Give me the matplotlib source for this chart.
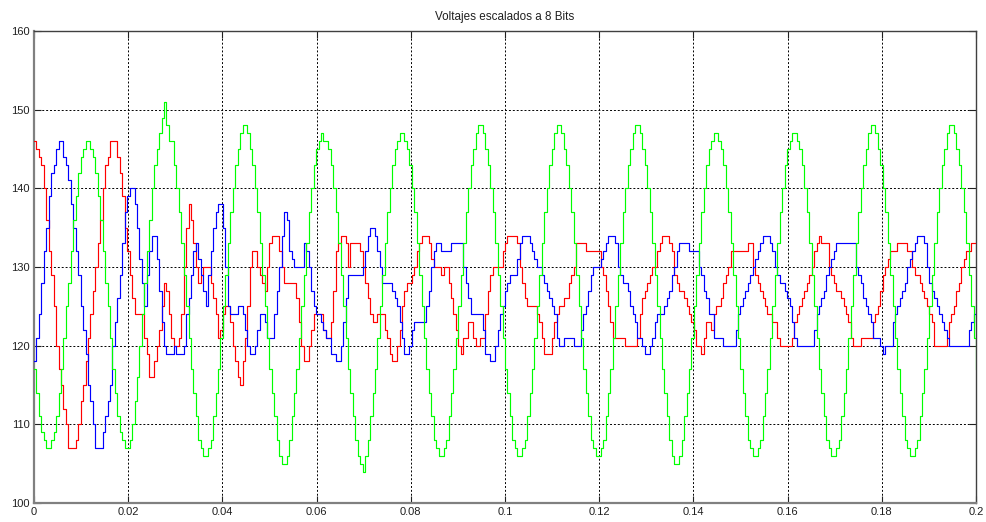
import numpy as np
import matplotlib
matplotlib.use("Agg")
import matplotlib.pyplot as plt

# sample period of the scope data (32 samples per 60 Hz cycle)
dt = 1.0 / 1920.0

title_text = "Voltajes escalados a 8 Bits"
xtick_vals = [0, 0.02, 0.04, 0.06, 0.08, 0.1, 0.12, 0.14, 0.16, 0.18, 0.2]
xtick_labels = ["0", "0.02", "0.04", "0.06", "0.08", "0.1", "0.12", "0.14", "0.16", "0.18", "0.2"]
ytick_vals = [100, 110, 120, 130, 140, 150, 160]
ytick_labels = ["100", "110", "120", "130", "140", "150", "160"]

green = [
    117,114,111,109,108,107,107,108,109,111,114,117,121,125,128,132,136,139,142,144,145,146,146,145,144,142,139,136,132,128,125,121,117,114,111,109,108,107,
    107,108,110,113,116,120,124,128,132,136,140,143,145,147,149,151,148,146,146,143,140,137,133,129,125,121,117,114,111,108,107,106,
    106,107,108,111,114,117,121,125,129,133,137,140,143,145,147,148,148,147,145,143,140,137,133,129,125,121,117,114,111,108,106,105,
    105,106,108,111,114,117,121,125,129,133,137,140,143,145,146,147,146,146,145,143,140,137,133,129,125,121,117,114,111,108,106,105,
    104,106,108,111,114,117,121,125,129,133,137,140,143,145,146,147,147,146,145,143,140,137,133,129,125,121,117,114,111,108,107,106,
    106,107,108,111,114,117,121,125,129,133,137,140,143,145,147,148,148,147,145,143,140,137,133,129,125,121,117,114,111,108,107,106,
    106,107,108,111,114,117,121,125,129,133,137,140,143,145,147,148,148,147,145,143,140,137,133,129,125,121,117,114,111,108,107,106,
    106,107,108,111,114,117,121,125,129,133,137,140,143,145,147,148,148,147,145,143,140,137,133,129,125,121,117,114,111,108,106,105,
    105,106,108,111,114,117,121,125,129,133,137,140,143,145,146,147,147,146,145,143,140,137,133,129,125,121,117,114,111,108,107,106,
    106,107,108,111,114,117,121,125,129,133,137,140,143,145,146,147,147,146,145,143,140,137,133,129,125,121,117,114,111,108,107,106,
    106,107,108,111,114,117,121,125,129,133,137,140,143,145,147,148,148,147,145,143,140,137,133,129,125,121,117,114,111,108,107,106,
    106,107,108,111,114,117,121,125,129,133,137,140,143,145,147,148,148,147,145,143,140,137,133,129,125,121,117,
]

red = [
    146,145,144,143,140,136,132,129,125,120,117,115,112,110,107,107,107,108,110,113,115,118,121,124,127,130,133,136,140,143,144,146,146,146,
    144,142,139,135,132,129,126,124,124,124,124,121,119,116,116,118,120,122,125,128,127,124,121,120,120,121,124,130,135,138,136,133,130,128,
    129,130,130,130,128,126,124,121,122,124,125,125,123,120,118,116,115,118,121,125,130,132,132,130,129,128,127,130,133,134,134,134,132,130,
    128,128,128,128,128,126,123,120,
    118,118,120,122,124,124,124,124,122,121,121,123,127,132,133,134,134,133,130,133,133,133,133,132,130,128,126,124,123,123,124,124,124,122,
    121,119,118,118,120,122,125,127,128,128,129,130,132,133,134,134,134,133,131,130,130,130,129,130,130,128,126,124,122,120,119,121,
    121,123,123,121,120,120,121,121,124,127,129,130,130,130,130,132,133,134,134,134,134,133,130,128,126,125,125,125,125,124,123,121,
    119,119,119,121,123,124,125,125,126,126,128,129,130,133,133,133,133,132,132,132,132,132,132,130,129,127,125,123,121,121,121,121,
    121,120,120,120,120,120,121,124,126,127,128,129,130,130,132,133,134,134,134,133,132,129,128,127,127,126,125,124,123,122,120,120,
    119,121,123,123,122,124,125,125,126,128,129,130,132,132,132,132,132,132,132,133,133,130,129,128,127,126,125,124,124,123,123,121,
    120,120,120,120,120,121,123,124,125,126,127,128,129,130,132,133,134,133,133,133,130,129,128,127,127,126,125,124,123,121,120,120,
    120,121,121,121,121,121,123,124,125,127,129,130,131,132,132,132,133,133,133,133,132,132,130,129,129,128,127,126,125,124,123,120,
    120,120,120,120,121,123,124,125,127,128,130,131,132,132,133,133,133,
]

blue = [
    118,121,124,128,132,135,139,142,143,145,146,146,144,143,141,138,135,132,129,125,
    122,119,115,113,110,107,107,107,109,111,113,115,120,123,126,129,133,137,139,140,
    140,138,135,131,128,125,129,132,134,134,131,127,123,120,119,119,119,120,119,119,
    119,120,124,126,129,132,133,131,129,127,125,129,132,135,137,138,138,135,130,125,
    124,124,124,125,125,124,122,120,119,119,120,122,124,124,123,121,121,121,124,127,
    130,134,137,136,132,131,130,130,130,130,
    133,132,130,127,125,124,124,123,122,121,121,119,119,118,118,120,123,126,129,129,
    129,129,129,129,130,132,134,135,135,134,132,130,128,128,128,128,127,126,125,123,
    121,119,119,120,122,123,123,123,123,123,125,127,130,132,133,133,132,132,132,132,
    133,133,133,133,133,130,
    128,126,124,124,124,124,124,122,119,119,118,118,120,122,124,125,127,128,129,129,
    129,131,133,134,134,134,133,132,131,130,130,129,128,127,126,125,124,121,120,120,
    121,121,121,121,120,120,120,122,124,125,127,129,130,130,130,131,132,133,134,134,
    134,133,130,129,128,128,127,125,124,123,121,121,120,119,119,120,121,123,124,124,
    124,125,126,127,129,130,132,133,133,133,133,132,132,132,132,130,129,127,126,124,
    124,121,121,121,121,120,120,120,120,120,122,124,125,126,127,128,129,130,131,132,
    133,134,134,134,133,132,130,129,128,128,127,126,125,123,121,120,120,120,120,120,
    120,120,122,124,125,126,127,129,130,131,132,133,133,133,133,133,133,133,133,130,
    129,128,126,125,124,123,121,121,121,120,119,120,120,120,123,124,125,126,127,128,
    130,131,132,133,134,134,134,133,130,128,127,126,125,124,123,122,121,120,120,120,
    120,120,120,120,120,122,123,124,125,
]

plt.rcParams['font.family'] = ['Liberation Sans', 'DejaVu Sans']

W, H = 987, 522
fig = plt.figure(figsize=(W / 100, H / 100), dpi=100)
fig.patch.set_facecolor('white')
ax = fig.add_axes([34 / W, (H - 503) / H, (976 - 34) / W, (503 - 31) / H])
ax.set_facecolor('white')

for series, col in ((red, '#ff0000'), (blue, '#0000ff'), (green, '#00ff00')):
    t = np.arange(len(series)) * dt
    ax.plot(t, series, color=col, lw=0.85, drawstyle='steps-post', zorder=3)

ax.set_xlim(0, 0.2)
ax.set_ylim(100, 160)
ax.set_xticks(xtick_vals)
ax.set_xticklabels(xtick_labels)
ax.set_yticks(ytick_vals)
ax.set_yticklabels(ytick_labels)
ax.tick_params(direction='in', length=5, width=0.8, top=True, right=True,
               labelsize=8, colors='#202020', pad=3)
ax.grid(True, color='black', linestyle=(0, (2, 2)), linewidth=0.7, zorder=1)

for side in ('left', 'bottom'):
    ax.spines[side].set_color('#808080')
    ax.spines[side].set_linewidth(1.6)
for side in ('top', 'right'):
    ax.spines[side].set_color('#404040')
    ax.spines[side].set_linewidth(1.0)

ax.set_title(title_text, fontsize=8.4, color='#202020', pad=8)

fig.savefig('out.png', dpi=100, facecolor='white')
